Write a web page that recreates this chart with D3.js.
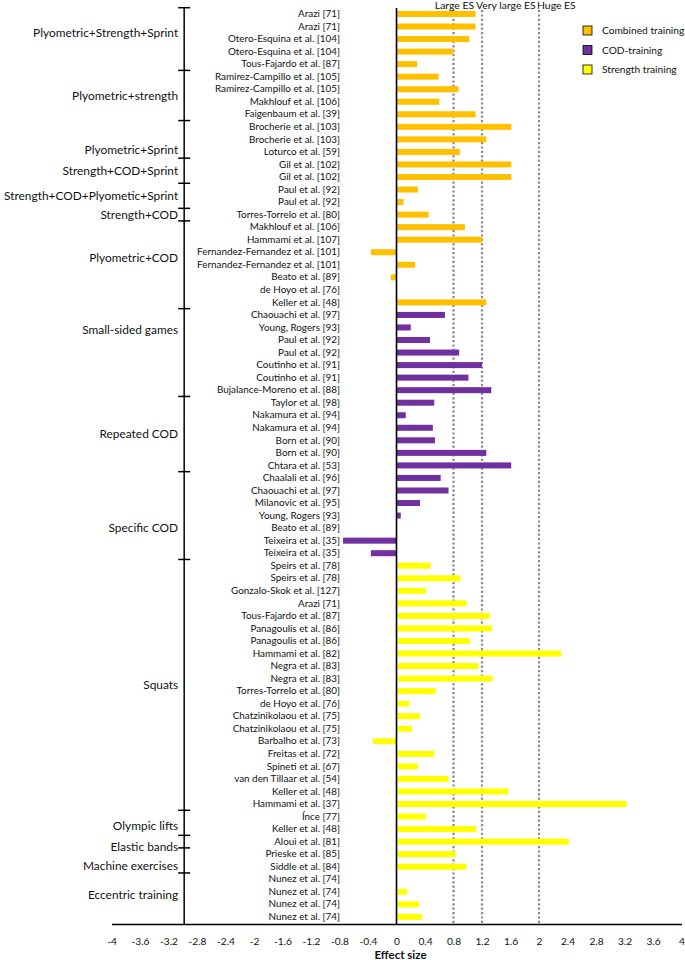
<!DOCTYPE html>
<html><head><meta charset="utf-8">
<script src="https://cdn.jsdelivr.net/npm/d3@7/dist/d3.min.js"></script>
<style>
html,body{margin:0;padding:0;background:#fff;}
svg{display:block;font-family:Lato,"Open Sans",sans-serif;}
</style></head>
<body>
<svg id="chart" width="685" height="960"></svg>
<script>
// ---------- DATA ----------
const combinedStudies = ["Arazi [71]","Arazi [71]","Otero-Esquina et al. [104]","Otero-Esquina et al. [104]","Tous-Fajardo et al. [87]",
 "Ramirez-Campillo et al. [105]","Ramirez-Campillo et al. [105]","Makhlouf et al. [106]","Faigenbaum et al. [39]",
 "Brocherie et al. [103]","Brocherie et al. [103]","Loturco et al. [59]","Gil et al. [102]","Gil et al. [102]",
 "Paul et al. [92]","Paul et al. [92]","Torres-Torrelo et al. [80]","Makhlouf et al. [106]","Hammami et al. [107]",
 "Fernandez-Fernandez et al. [101]","Fernandez-Fernandez et al. [101]","Beato et al. [89]","de Hoyo et al. [76]","Keller et al. [48]"];
const combinedES = [1.11,1.11,1.02,0.80,0.29,0.59,0.87,0.60,1.11,1.61,1.26,0.89,1.61,1.61,0.30,0.10,0.45,0.96,1.20,-0.36,0.26,-0.08,0,1.26];

const codStudies = ["Chaouachi et al. [97]","Young, Rogers [93]","Paul et al. [92]","Paul et al. [92]","Coutinho et al. [91]","Coutinho et al. [91]",
 "Bujalance-Moreno et al. [88]","Taylor et al. [98]","Nakamura et al. [94]","Nakamura et al. [94]","Born et al. [90]","Born et al. [90]",
 "Chtara et al. [53]","Chaalali et al. [96]","Chaouachi et al. [97]","Milanovic et al. [95]","Young, Rogers [93]","Beato et al. [89]",
 "Teixeira et al. [35]","Teixeira et al. [35]"];
const codES = [0.68,0.20,0.47,0.88,1.20,1.01,1.33,0.53,0.13,0.51,0.54,1.26,1.61,0.62,0.73,0.33,0.06,0,-0.75,-0.36];

const strengthStudies = ["Speirs et al. [78]","Speirs et al. [78]","Gonzalo-Skok et al. [127]","Arazi [71]","Tous-Fajardo et al. [87]",
 "Panagoulis et al. [86]","Panagoulis et al. [86]","Hammami et al. [82]","Negra et al. [83]","Negra et al. [83]","Torres-Torrelo et al. [80]",
 "de Hoyo et al. [76]","Chatzinikolaou et al. [75]","Chatzinikolaou et al. [75]","Barbalho et al. [73]","Freitas et al. [72]",
 "Spineti et al. [67]","van den Tillaar et al. [54]","Keller et al. [48]","Hammami et al. [37]","Ínce [77]","Keller et al. [48]",
 "Aloui et al. [81]","Prieske et al. [85]","Siddle et al. [84]","Nunez et al. [74]","Nunez et al. [74]","Nunez et al. [74]","Nunez et al. [74]"];
const strengthES = [0.48,0.90,0.41,0.98,1.31,1.34,1.03,2.31,1.15,1.35,0.55,0.18,0.33,0.22,-0.33,0.53,0.30,0.73,1.57,3.23,0.41,1.12,2.42,0.83,0.98,0,0.145,0.32,0.36];

const groupNames = ["Plyometric+Strength+Sprint","Plyometric+strength","Plyometric+Sprint","Strength+COD+Sprint",
 "Strength+COD+Plyometic+Sprint","Strength+COD","Plyometric+COD","Small-sided games","Repeated COD","Specific COD",
 "Squats","Olympic lifts","Elastic bands","Machine exercises","Eccentric training"];
const groupSizes = [5,4,3,2,2,1,7,7,6,7,20,2,1,2,4];

const seriesNames = ["Combined training","COD-training","Strength training"];
const thresholdValues = [0.8,1.2,2.0];
const thresholdNames = ["Large ES","Very large ES","Huge ES"];
const xTickValues = [-4,-3.6,-3.2,-2.8,-2.4,-2,-1.6,-1.2,-0.8,-0.4,0,0.4,0.8,1.2,1.6,2,2.4,2.8,3.2,3.6,4];
const xTitle = "Effect size";

// ---------- LAYOUT / STYLE ----------
const colors = {"Combined training":"#FFC000","COD-training":"#7030A0","Strength training":"#FFFF00"};
const groupLabelShift = {"Plyometric+Strength+Sprint":-6,"Plyometric+Sprint":10,"Plyometric+COD":-7,"Small-sided games":-23,
 "Specific COD":12,"Olympic lifts":3,"Elastic bands":5,"Machine exercises":5,"Eccentric training":-3};
const textColor = "#111";

const rows = [];
combinedStudies.forEach((s,i)=>rows.push({study:s, es:combinedES[i], series:seriesNames[0]}));
codStudies.forEach((s,i)=>rows.push({study:s, es:codES[i], series:seriesNames[1]}));
strengthStudies.forEach((s,i)=>rows.push({study:s, es:strengthES[i], series:seriesNames[2]}));
rows.forEach((r,i)=>r.idx=i);

const svg = d3.select("#chart");
const topY = 7.7, rowH = 12.54;
const bottomY = topY + rows.length*rowH;

const x = d3.scaleLinear().domain([-4,4]).range([111.5,681.5]);
const y = d3.scaleBand().domain(rows.map(r=>r.idx)).range([topY,bottomY]).paddingInner(0.52).paddingOuter(0.26);

// threshold dotted lines
svg.append("g").selectAll("line").data(thresholdValues).join("line")
  .attr("x1",d=>x(d)).attr("x2",d=>x(d)).attr("y1",10).attr("y2",bottomY)
  .attr("stroke",(d,i)=>i===0?"#8d8088":"#8a8a8a").attr("stroke-width",2.2).attr("stroke-dasharray","2.2,2.2");

// threshold labels
const tl = svg.append("g").attr("font-size",10.4).attr("fill",textColor);
tl.append("text").attr("x",x(thresholdValues[0])+1).attr("y",9).attr("text-anchor","middle").text(thresholdNames[0]);
tl.append("text").attr("x",x(thresholdValues[1])-6).attr("y",9).attr("text-anchor","start").text(thresholdNames[1]);
tl.append("text").attr("x",x(thresholdValues[2])-2).attr("y",9).attr("text-anchor","start").text(thresholdNames[2]);

// bars
svg.append("g").selectAll("rect").data(rows.filter(r=>r.es!==0)).join("rect")
  .attr("x",d=>x(Math.min(0,d.es))).attr("width",d=>Math.abs(x(d.es)-x(0)))
  .attr("y",d=>y(d.idx)).attr("height",y.bandwidth())
  .attr("fill",d=>colors[d.series]);

// zero line
svg.append("line").attr("x1",x(0)).attr("x2",x(0)).attr("y1",8).attr("y2",bottomY+1)
  .attr("stroke","#000").attr("stroke-width",1.6);

// study labels
const yAxis = d3.axisLeft(y).tickSize(0).tickPadding(0).tickFormat(i=>rows[i].study);
const ya = svg.append("g").attr("transform",`translate(${x(-0.8)+0.5},0)`).call(yAxis);
ya.select(".domain").remove();
ya.selectAll("text").attr("font-size",9.9).attr("fill",textColor).attr("font-family","Lato, sans-serif");

// group axis
const gx = x(-2.98);
const bounds = [0]; groupSizes.forEach(s=>bounds.push(bounds[bounds.length-1]+s));
const gy = d3.scaleLinear().domain([0,rows.length]).range([topY,bottomY]);
const ga = svg.append("g");
ga.append("line").attr("x1",gx).attr("x2",gx).attr("y1",gy(0)).attr("y2",bottomY+1).attr("stroke","#000").attr("stroke-width",1.5);
ga.selectAll("line.t").data(bounds.slice(0,-1)).join("line").attr("class","t")
  .attr("x1",gx-6).attr("x2",gx+6).attr("y1",d=>gy(d)).attr("y2",d=>gy(d)).attr("stroke","#000").attr("stroke-width",1.5);
ga.selectAll("text").data(groupNames).join("text")
  .attr("x",gx-6).attr("y",(d,i)=>(gy(bounds[i])+gy(bounds[i+1]))/2+(groupLabelShift[d]||0))
  .attr("dy","0.35em").attr("text-anchor","end").attr("font-size",11.9).attr("fill",textColor).text(d=>d);

// x axis
const xAxis = d3.axisBottom(x).tickValues(xTickValues).tickSizeInner(0).tickSizeOuter(0).tickPadding(14)
  .tickFormat(d=>String(+d.toFixed(1)));
const xa = svg.append("g").attr("transform",`translate(0,${bottomY+1})`).call(xAxis);
xa.select(".domain").attr("stroke","#000").attr("stroke-width",1.5);
xa.selectAll("text").attr("font-size",10.2).attr("fill",textColor).attr("font-family","Lato, sans-serif");
svg.append("text").attr("x",x(0)+4).attr("y",bottomY+36).attr("text-anchor","middle")
  .attr("font-size",11.5).attr("font-weight","bold").attr("fill",textColor).text(xTitle);

// legend
const lg = svg.append("g").selectAll("g").data(seriesNames).join("g")
  .attr("transform",(d,i)=>`translate(583,${26+i*19.5})`);
lg.append("rect").attr("width",9).attr("height",9).attr("fill",d=>colors[d]).attr("stroke","#000").attr("stroke-width",0.8);
lg.append("text").attr("x",19).attr("y",4.5).attr("dy","0.35em").attr("font-size",10.2).attr("fill",textColor).text(d=>d);
</script>
</body></html>
